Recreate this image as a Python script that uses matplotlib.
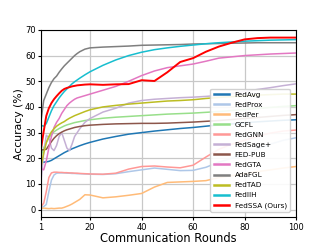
"""Accuracy vs. communication rounds for federated graph learning methods."""

import matplotlib

matplotlib.use("Agg")
import matplotlib.pyplot as plt

ROUNDS = [1, 2, 3, 4, 5, 6, 7, 8, 9, 10, 11, 12, 13, 14, 15, 16, 18, 20,
          25, 30, 35, 40, 45, 50, 55, 60, 65, 70, 75, 80, 85, 90, 95, 100]

FEDAVG = [18.5, 18.5, 18.6, 18.8, 19.2, 19.8, 20.4, 21.0, 21.6, 22.2, 22.7, 23.2, 23.7, 24.1,
          24.5, 24.9, 25.6, 26.2, 27.5, 28.5, 29.4, 30.0, 30.6, 31.1, 31.6, 32.0, 32.5, 33.0,
          33.4, 33.8, 34.2, 34.5, 34.8, 35.0]
FEDPROX = [0.8, 1.2, 2.0, 7.0, 11.5, 13.5, 14.2, 14.3, 14.3, 14.3, 14.2, 14.2, 14.1, 14.1,
           14.0, 14.0, 13.9, 13.8, 13.7, 14.0, 14.8, 15.5, 16.2, 15.7, 15.2, 15.3, 16.5, 18.5,
           20.0, 21.5, 23.5, 25.5, 27.0, 28.0]
FEDPER = [0.5, 0.6, 0.5, 0.4, 0.5, 0.4, 0.5, 0.6, 0.6, 0.9, 1.3, 1.7, 2.2, 2.8,
          3.4, 4.0, 5.8, 5.7, 4.6, 5.0, 5.6, 6.3, 8.8, 10.6, 10.8, 11.0, 11.3, 12.5,
          13.2, 14.0, 14.8, 15.5, 16.2, 16.8]
GCFL = [21.0, 24.0, 26.3, 28.0, 29.3, 30.3, 31.0, 31.6, 32.1, 32.6, 33.0, 33.3, 33.6, 33.9,
        34.1, 34.3, 34.7, 35.0, 35.6, 36.0, 36.3, 36.6, 36.9, 37.2, 37.4, 37.6, 37.9, 38.2,
        38.6, 39.0, 39.4, 39.8, 40.2, 40.5]
FEDGNN = [1.2, 2.5, 7.0, 12.5, 14.3, 14.6, 14.6, 14.5, 14.5, 14.4, 14.4, 14.3, 14.3, 14.2,
          14.2, 14.1, 14.0, 13.9, 13.8, 14.2, 15.8, 16.8, 17.0, 16.6, 16.3, 17.3, 20.5, 23.5,
          25.5, 27.0, 28.5, 29.8, 30.6, 31.0]
FEDSAGE = [12.0, 22.0, 29.0, 28.0, 24.0, 23.0, 25.0, 28.5, 30.0, 27.0, 24.0, 23.0, 25.5, 28.5,
           30.0, 31.5, 34.0, 35.5, 38.0, 39.5, 41.5, 42.5, 43.0, 43.3, 43.6, 43.8, 44.1, 44.5,
           45.2, 46.0, 46.8, 47.5, 48.3, 49.0]
FEDPUB = [23.3, 23.3, 23.5, 25.0, 26.5, 27.8, 28.8, 29.6, 30.2, 30.7, 31.1, 31.4, 31.7, 32.0,
          32.2, 32.4, 32.7, 32.9, 33.2, 33.4, 33.5, 33.6, 33.6, 33.7, 33.9, 34.1, 34.4, 34.7,
          35.1, 35.5, 35.9, 36.3, 36.7, 37.0]
FEDGTA = [16.0, 15.5, 19.0, 24.0, 28.5, 32.0, 34.0, 35.5, 37.5, 39.0, 40.5, 41.5, 42.3, 43.0,
          43.5, 43.8, 44.4, 45.0, 46.5, 48.0, 50.0, 52.2, 54.0, 55.3, 56.0, 56.7, 57.8, 59.0,
          59.5, 60.0, 60.3, 60.6, 60.8, 61.0]
ADAFGL = [35.0, 42.5, 45.0, 47.5, 49.5, 51.0, 52.0, 53.5, 54.8, 56.0, 57.0, 58.0, 59.0, 60.0,
          60.8, 61.5, 62.5, 63.0, 63.3, 63.5, 63.7, 64.0, 64.1, 64.2, 64.3, 64.5, 64.6, 64.7,
          64.8, 64.9, 65.0, 65.0, 65.0, 65.0]
FEDTAD = [17.0, 22.0, 26.0, 28.5, 30.3, 31.5, 32.5, 33.2, 33.8, 34.3, 35.0, 35.6, 36.1, 36.6,
          37.0, 37.4, 38.2, 38.9, 40.0, 40.6, 41.1, 41.5, 41.9, 42.3, 42.5, 42.8, 43.3, 43.7,
          44.0, 44.3, 44.6, 44.8, 45.0, 45.0]
FEDIIH = [32.8, 32.5, 33.5, 36.0, 38.5, 40.5, 42.0, 43.5, 44.8, 46.0, 47.0, 48.0, 49.0, 49.8,
          50.5, 51.2, 52.5, 53.7, 56.2, 58.3, 60.0, 61.3, 62.3, 63.0, 63.6, 64.1, 64.6, 65.0,
          65.3, 65.6, 65.8, 66.0, 66.1, 66.2]
FEDSSA = [24.0, 30.5, 36.5, 39.5, 41.5, 43.0, 44.2, 45.3, 46.3, 47.0, 47.4, 47.7, 48.0, 48.2,
          48.4, 48.5, 48.7, 48.8, 48.6, 48.8, 48.9, 50.4, 50.1, 53.5, 57.5, 59.0, 61.5, 63.5,
          65.0, 66.3, 66.8, 67.0, 67.0, 67.0]

SERIES = [
    ("FedAvg", FEDAVG, "#1f77b4"),
    ("FedProx", FEDPROX, "#aec7e8"),
    ("FedPer", FEDPER, "#ffbb78"),
    ("GCFL", GCFL, "#98df8a"),
    ("FedGNN", FEDGNN, "#ff9896"),
    ("FedSage+", FEDSAGE, "#c5b0d5"),
    ("FED-PUB", FEDPUB, "#8c564b"),
    ("FedGTA", FEDGTA, "#e377c2"),
    ("AdaFGL", ADAFGL, "#7f7f7f"),
    ("FedTAD", FEDTAD, "#bcbd22"),
    ("FedIIH", FEDIIH, "#17becf"),
    ("FedSSA (Ours)", FEDSSA, "#ff0000"),
]

fig = plt.figure(figsize=(3.29, 2.47), dpi=100)
ax = fig.add_axes([0.125, 0.12, 0.775, 0.759])

for name, values, color in SERIES:
    lw = 1.4 if name.startswith("FedSSA") else 1.1
    ax.plot(ROUNDS, values, color=color, linewidth=lw, label=name)

ax.set_xlim(1, 100)
ax.set_ylim(-3, 70)
ax.set_xticks([1, 20, 40, 60, 80, 100])
ax.set_yticks([0, 10, 20, 30, 40, 50, 60, 70])
ax.tick_params(labelsize=6, length=2.5, pad=1.5)
ax.grid(True, color="#c8c8c8", linewidth=0.9)
ax.set_xlabel("Communication Rounds", fontsize=8.3, labelpad=0)
ax.set_ylabel("Accuracy (%)", fontsize=7.8, labelpad=1)

leg = ax.legend(loc="lower right", fontsize=5.2, handlelength=2.1, labelspacing=0.55,
                borderpad=0.45, handletextpad=0.8, framealpha=0.9,
                bbox_to_anchor=(0.99, 0.01))
for line in leg.get_lines():
    line.set_linewidth(1.8)

fig.savefig("out.png", dpi=100)
plt.close(fig)
